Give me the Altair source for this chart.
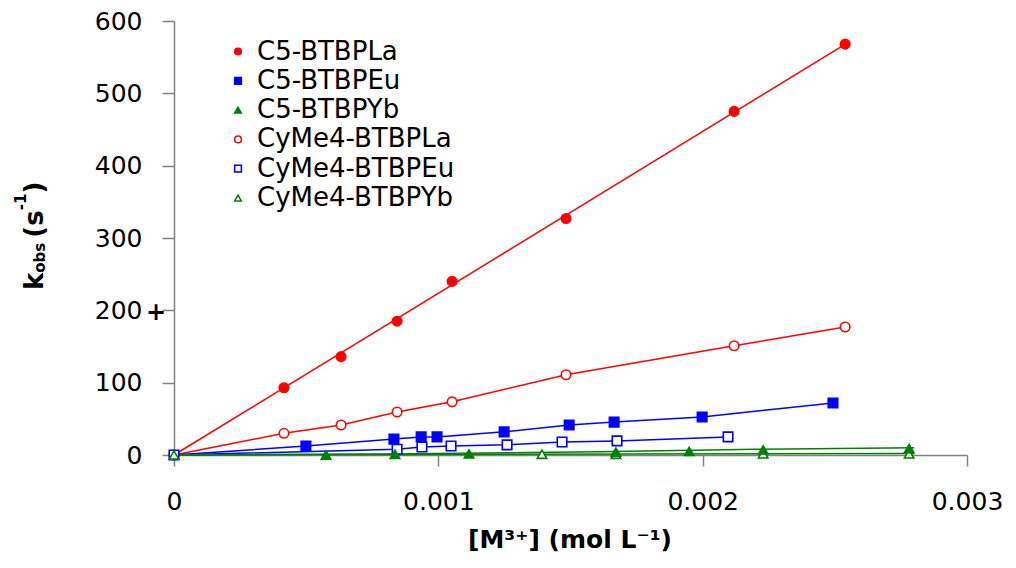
import altair as alt
import pandas as pd

# ---------------- data ----------------
series_names = ["C5-BTBPLa", "C5-BTBPEu", "C5-BTBPYb",
                "CyMe4-BTBPLa", "CyMe4-BTBPEu", "CyMe4-BTBPYb"]
series_strokes = ["#ff0000", "#0000ff", "#008000", "#ff0000", "#0000ff", "#008000"]
series_fills = ["#ff0000", "#0000ff", "#008000", "#ffffff", "#ffffff", "#ffffff"]
series_shapes = ["circle", "square", "triangle-up", "circle", "square", "triangle-up"]

# La series (both ligands share the concentrations)
la_x = [0.000416, 0.000632, 0.000844, 0.001052, 0.001483, 0.002119, 0.002539]
c5_la_y = [93, 136, 185, 240, 327, 475, 568]
cy_la_y = [30, 41.5, 59.5, 73.5, 111, 151, 177]

c5_eu_x = [0.000499, 0.000832, 0.000935, 0.000995, 0.001249, 0.001495, 0.001665, 0.001998, 0.002493]
c5_eu_y = [12.5, 22, 25, 25, 32, 41.5, 45.5, 52.5, 72]

cy_eu_x = [0.000844, 0.000938, 0.001048, 0.00126, 0.001468, 0.001676, 0.002096]
cy_eu_y = [8, 11, 12.5, 14, 18, 19.5, 25]

c5_yb_x = [0.000575, 0.000836, 0.001116, 0.001672, 0.001949, 0.002229, 0.002781]
c5_yb_y = [0, 1, 1.5, 4, 5, 7, 9]

cy_yb_x = [0.001392, 0.001672, 0.002229, 0.002781]
cy_yb_y = [1, 1, 1.5, 1.5]

# fitted lines
c5_la_fit_x = [0, 0.00254]
c5_la_fit_y = [0, 568]
c5_yb_fit_x = [0, 0.0008, 0.0016, 0.0022, 0.0028]
c5_yb_fit_y = [0, 1.5, 4.5, 8, 10]
cy_yb_fit_x = [0, 0.0028]
cy_yb_fit_y = [0, 2]

x_ticks = [0, 0.001, 0.002, 0.003]
y_ticks = [0, 100, 200, 300, 400, 500, 600]

# ---------------- tables ----------------
stroke_of = dict(zip(series_names, series_strokes))

def rows(name, xs, ys, order):
    return [{"series": name, "x": a, "y": b, "o": order + i, "col": stroke_of[name]}
            for i, (a, b) in enumerate(zip(xs, ys))]

# open markers first (include the origin), filled markers drawn on top
pts = []
pts += rows("CyMe4-BTBPLa", [0] + la_x, [0] + cy_la_y, 0)
pts += rows("CyMe4-BTBPEu", [0] + cy_eu_x, [0] + cy_eu_y, 100)
pts += rows("CyMe4-BTBPYb", [0] + cy_yb_x, [0] + cy_yb_y, 200)
pts += rows("C5-BTBPLa", la_x, c5_la_y, 300)
pts += rows("C5-BTBPEu", c5_eu_x, c5_eu_y, 400)
pts += rows("C5-BTBPYb", c5_yb_x, c5_yb_y, 500)
pts_df = pd.DataFrame(pts)

lines = []
lines += rows("C5-BTBPLa", c5_la_fit_x, c5_la_fit_y, 0)
lines += rows("CyMe4-BTBPLa", [0] + la_x, [0] + cy_la_y, 100)
lines += rows("C5-BTBPEu", [0] + c5_eu_x, [0] + c5_eu_y, 200)
lines += rows("CyMe4-BTBPEu", [0] + cy_eu_x, [0] + cy_eu_y, 300)
lines += rows("C5-BTBPYb", c5_yb_fit_x, c5_yb_fit_y, 400)
lines += rows("CyMe4-BTBPYb", cy_yb_fit_x, cy_yb_fit_y, 500)
lines_df = pd.DataFrame(lines)

FONT = "DejaVu Sans"
X0, Y0 = 174, 21  # plot origin on the page

xscale = alt.Scale(domain=[0, 0.003], nice=False, zero=False)
yscale = alt.Scale(domain=[0, 600], nice=False)

xaxis = alt.Axis(values=x_ticks, format=".3~f", title=None, grid=False,
                 tickSize=11, labelPadding=23, labelFontSize=25, labelFont=FONT,
                 labelColor="black", domainColor="#808080", tickColor="#808080",
                 domainWidth=1.5, tickWidth=1.5, labelFlush=False)
yaxis = alt.Axis(values=y_ticks, format="d", title=None, grid=False,
                 tickSize=12, labelPadding=20, labelFontSize=25, labelFont=FONT,
                 labelColor="black", domainColor="#808080", tickColor="#808080",
                 domainWidth=1.5, tickWidth=1.5)

leg = alt.Legend(title=None, orient="none", legendX=51, legendY=17.5,
                 symbolSize=45, symbolStrokeWidth=1.5, labelFontSize=26,
                 labelFont=FONT, labelColor="black", labelOffset=6,
                 rowPadding=3.3, padding=0, labelLimit=400)

line_layer = alt.Chart(lines_df).mark_line(strokeWidth=1.5).encode(
    x=alt.X("x:Q", scale=xscale, axis=xaxis),
    y=alt.Y("y:Q", scale=yscale, axis=yaxis),
    color=alt.Color("col:N", scale=None),
    detail="series:N",
    order="o:Q",
)

point_layer = alt.Chart(pts_df).mark_point(opacity=1, strokeWidth=1.6, size=90).encode(
    x=alt.X("x:Q", scale=xscale),
    y=alt.Y("y:Q", scale=yscale),
    stroke=alt.Stroke("series:N", scale=alt.Scale(domain=series_names, range=series_strokes), legend=leg),
    fill=alt.Fill("series:N", scale=alt.Scale(domain=series_names, range=series_fills), legend=leg),
    shape=alt.Shape("series:N", scale=alt.Scale(domain=series_names, range=series_shapes), legend=leg),
    order="o:Q",
)

def label(text, ax, ay, size, angle=0, align="left", baseline="alphabetic", weight="bold"):
    return alt.Chart(pd.DataFrame({"t": [text]})).mark_text(
        angle=angle, align=align, baseline=baseline, font=FONT, fontSize=size,
        fontWeight=weight, color="black"
    ).encode(text="t:N", x=alt.value(ax - X0), y=alt.value(ay - Y0))

texts = [
    label("k", 43, 290, 26, angle=270),
    label("obs", 45, 272.7, 15, angle=270),
    label("(s", 43, 237.7, 26, angle=270),
    label("-1", 26, 210.3, 15, angle=270),
    label(")", 43, 193.6, 26, angle=270),
    label("[M³⁺] (mol L⁻¹)", 570, 548, 25, align="center"),
    label("+", 156, 313, 24, align="center", baseline="middle"),
]

chart = alt.layer(line_layer, point_layer, *texts).properties(
    width=793, height=434,
    autosize=alt.AutoSizeParams(type="none"),
    padding={"left": 166, "top": 13, "right": 40, "bottom": 100},
    background="white",
).configure_view(stroke=None)

chart.save("out.html", embed_options={"renderer": "svg", "actions": False})
